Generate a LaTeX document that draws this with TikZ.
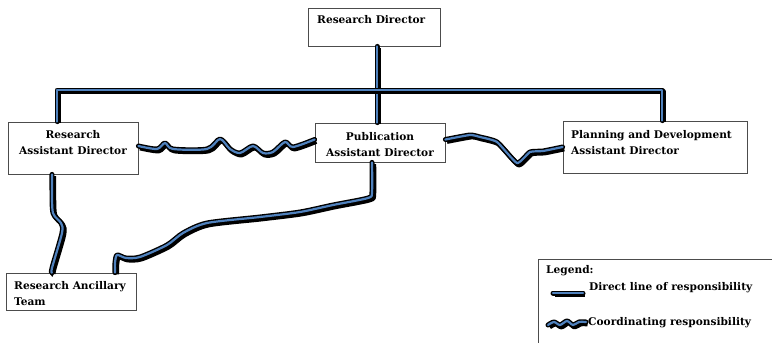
\documentclass[tikz,border=0pt]{standalone}
\usepackage{fontspec}
\setmainfont{DejaVu Serif}
\usetikzlibrary{calc}
\definecolor{lineblue}{RGB}{79,129,189}
\tikzset{
	box/.style={draw=black!70,fill=white,line width=0.8pt,inner sep=0pt},
	lbl/.style={font=\fontsize{10.6}{16}\selectfont\bfseries,inner sep=0pt},
	resp/.style={line width=1.4pt,double=lineblue,double distance=2.2pt,
		line join=round,line cap=round,
		preaction={draw=black,line width=5.2pt,line join=round,
			transform canvas={shift={(1.6pt,-1.8pt)}}}},
}

\begin{document}
\begin{tikzpicture}[x=1pt,y=-1pt]
	\useasboundingbox (0,0) rectangle (772,343);
	
	%BOXES
	\node[box,minimum width=132,minimum height=38] (rd)   at (374,27)    {};
	\node[box,minimum width=130,minimum height=52] (rad)  at (73,148)    {};
	\node[box,minimum width=130,minimum height=39] (pad)  at (380,142.5) {};
	\node[box,minimum width=184,minimum height=52] (pdad) at (655,147)   {};
	\node[box,minimum width=130,minimum height=37] (rat)  at (71,291.5)  {};
	\draw[draw=black!70,line width=0.8pt] (538,343) |- (772,259);	%legend box, runs off the page
	
	%LABELS
	\node[lbl,anchor=west] (rdtext) at (317,20) {Research Director};
	\node[lbl,align=center] (radtext) at (73,143) {Research\\Assistant Director};
	\node[lbl,align=center] (padtext) at (380,144.5) {Publication\\Assistant Director};
	\node[lbl,align=left,anchor=west] (pdadtext) at (571,142.5) {Planning and Development\\Assistant Director};
	\node[lbl,align=left,anchor=west] (rattext) at (14,293.5) {Research Ancillary\\Team};
	\node[lbl,anchor=west] (legtext) at (546,271) {Legend:};
	\node[lbl,anchor=west] (dirtext) at (589,288) {Direct line of responsibility};
	\node[lbl,anchor=west] (cootext) at (588,323) {Coordinating responsibility};
	
	%DIRECT LINES
	\coordinate (barmid) at (377,90);
	\draw[resp] (rd.south -| barmid) -- (barmid |- pad.north);
	\draw[resp] ([xshift=-16]rad.north) |- (barmid) -| ([xshift=7]pdad.north);
	\draw[resp] plot[smooth,tension=0.5] coordinates
		{([xshift=-21]rad.south) (52,190) (53,213) (61,223) (62,233) (52,268) ([xshift=-19]rat.north)};
	\draw[resp] plot[smooth,tension=0.45] coordinates
		{([xshift=-8]pad.south) (372,192) (368,198) (333,205) (300,212) (260,217) (207,223)
		 (183,233) (167,245) (140,257) (126,258) (117,255) (115,263) ([xshift=44]rat.north)};
	
	%COORDINATING LINES
	\draw[resp] plot[smooth,tension=0.5] coordinates
		{([yshift=2]rad.east) (157,149) (165,143) (173,149) (207,149) (220,139) (230,149) (240,153)
		 (253,146) (263,153) (273,152) (285,142) (293,147) ([yshift=3]pad.west)};
	\draw[resp] plot[smooth,tension=0.3] coordinates
		{([yshift=3]pad.east) (470,135) (480,137) (497,142) (517,163) (530,152) (543,151) (pdad.west)};
	
	%LEGEND
	\coordinate (dirA) at (553,293);
	\draw[resp] (dirA) -- ++(30,0) coordinate (dirB);
	\draw[resp] plot[smooth,tension=0.5] coordinates
		{(548,325) (554,322) (560,325) (567,321) (573,325) (579,322) ([xshift=-2,yshift=1]cootext.west)};
\end{tikzpicture}
\end{document}
